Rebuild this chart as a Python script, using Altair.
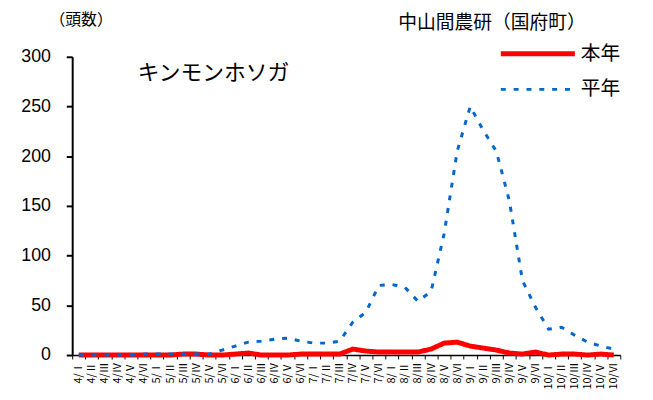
import altair as alt
import pandas as pd

months = ["4", "5", "6", "7", "8", "9", "10"]
periods = ["Ⅰ", "Ⅱ", "Ⅲ", "Ⅳ", "Ⅴ", "Ⅵ"]
labels = [f"{m}/{p}" for m in months for p in periods]

honnen = [0, 0, 0, 0, 0, 0, 0, 0, 1, 1, 0, 0, 1, 2, 0, 0, 0, 1, 1, 1, 1,
          6, 4, 3, 3, 3, 3, 6, 12, 13, 9, 7, 5, 2, 1, 3, 0, 1, 1, 0, 1, 0]
heinen = [0, 0, 0, 0, 0, 1, 1, 1, 1, 1, 1, 5, 9, 13, 14, 16, 17, 14, 12, 12, 14,
          33, 43, 70, 71, 68, 54, 64, 122, 205, 250, 226, 205, 155, 75, 48, 26, 28, 20, 13, 9, 6]

series_names = ["本年", "平年"]
colors = ["#FF0000", "#0066CC"]
dashes = [[1, 0], [5, 8]]
widths = [5, 3]

rows = []
for lab, a, b in zip(labels, honnen, heinen):
    rows.append({"label": lab, "series": series_names[0], "value": a})
    rows.append({"label": lab, "series": series_names[1], "value": b})
df = pd.DataFrame(rows)

FONT = "Noto Sans CJK JP"

x = alt.X("label:N", sort=labels, title=None,
          scale=alt.Scale(type="band", paddingInner=0, paddingOuter=0),
          axis=alt.Axis(labelAngle=270, tickBand="extent", labelFontSize=11,
                        labelFont=FONT, labelColor="black", labelPadding=3,
                        domainColor="black", domainWidth=1.5, tickColor="black",
                        tickSize=4, labelOverlap=False, grid=False))
y = alt.Y("value:Q", title=None,
          scale=alt.Scale(domain=[0, 300]),
          axis=alt.Axis(values=[0, 50, 100, 150, 200, 250, 300], labelFontSize=18,
                        labelFont="Liberation Sans", labelColor="black",
                        labelPadding=16, tickSize=6, tickWidth=2, tickColor="black",
                        domainColor="black", domainWidth=2, grid=False))

scale_color = alt.Scale(domain=series_names, range=colors)
scale_dash = alt.Scale(domain=series_names, range=dashes)
scale_width = alt.Scale(domain=series_names, range=widths)

lines = alt.Chart(df).mark_line().encode(
    x=x, y=y,
    color=alt.Color("series:N", sort=series_names, scale=scale_color, legend=None),
    strokeDash=alt.StrokeDash("series:N", sort=series_names, scale=scale_dash, legend=None),
    strokeWidth=alt.StrokeWidth("series:N", sort=series_names, scale=scale_width, legend=None),
)


def note(text, xv, yv, size, align="center"):
    return alt.Chart(pd.DataFrame({"t": [text]})).mark_text(
        font=FONT, fontSize=size, color="black", align=align, baseline="middle"
    ).encode(text="t:N", x=alt.value(xv), y=alt.value(yv))


def legend_line(i, yv):
    return alt.Chart(pd.DataFrame({"series": [series_names[i]]})).mark_rule(
        color=colors[i], strokeDash=dashes[i], strokeWidth=widths[i]
    ).encode(x=alt.value(434), x2=alt.value(509), y=alt.value(yv))


chart = alt.layer(
    lines,
    legend_line(0, -3),
    legend_line(1, 33),
    note(series_names[0], 515, -3, 20, "left"),
    note(series_names[1], 515, 33, 20, "left"),
    note("（頭数）", 9, -37, 16),
    note("中山間農研（国府町）", 425, -34, 19),
    note("キンモンホソガ", 143, 17, 22),
).properties(
    width=555, height=302,
    autosize=alt.AutoSizeParams(type="none"),
    padding={"left": 65, "top": 47, "right": 25, "bottom": 33},
).configure_view(stroke=None)

chart.save("out.html", embed_options={"renderer": "svg", "actions": False})
